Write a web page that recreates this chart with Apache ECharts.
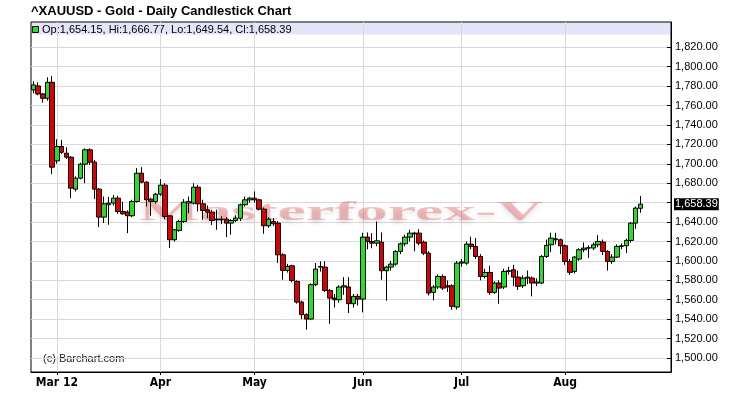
<!DOCTYPE html>
<html>
<head>
<meta charset="utf-8">
<script src="https://cdn.jsdelivr.net/npm/echarts@6/dist/echarts.min.js"></script>
<style>
html,body{margin:0;padding:0;background:#fff;}
#chart{width:734px;height:403px;}
</style>
</head>
<body>
<div id="chart"></div>
<script>
// ---- categories (trading days) ----
const dates = [
 '2012-02-23','2012-02-24','2012-02-27','2012-02-28','2012-02-29',
 '2012-03-01','2012-03-02','2012-03-05','2012-03-06','2012-03-07','2012-03-08','2012-03-09',
 '2012-03-12','2012-03-13','2012-03-14','2012-03-15','2012-03-16','2012-03-19','2012-03-20',
 '2012-03-21','2012-03-22','2012-03-23','2012-03-26','2012-03-27','2012-03-28','2012-03-29','2012-03-30',
 '2012-04-02','2012-04-03','2012-04-04','2012-04-05','2012-04-09','2012-04-10','2012-04-11',
 '2012-04-12','2012-04-13','2012-04-16','2012-04-17','2012-04-18','2012-04-19','2012-04-20',
 '2012-04-23','2012-04-24','2012-04-25','2012-04-26','2012-04-27','2012-04-30',
 '2012-05-01','2012-05-02','2012-05-03','2012-05-04','2012-05-07','2012-05-08','2012-05-09',
 '2012-05-10','2012-05-11','2012-05-14','2012-05-15','2012-05-16','2012-05-17','2012-05-18',
 '2012-05-21','2012-05-22','2012-05-23','2012-05-24','2012-05-25','2012-05-28','2012-05-29',
 '2012-05-30','2012-05-31',
 '2012-06-01','2012-06-04','2012-06-05','2012-06-06','2012-06-07','2012-06-08','2012-06-11',
 '2012-06-12','2012-06-13','2012-06-14','2012-06-15','2012-06-18','2012-06-19','2012-06-20',
 '2012-06-21','2012-06-22','2012-06-25','2012-06-26','2012-06-27','2012-06-28','2012-06-29',
 '2012-07-02','2012-07-03','2012-07-04','2012-07-05','2012-07-06','2012-07-09','2012-07-10',
 '2012-07-11','2012-07-12','2012-07-13','2012-07-16','2012-07-17','2012-07-18','2012-07-19',
 '2012-07-20','2012-07-23','2012-07-24','2012-07-25','2012-07-26','2012-07-27','2012-07-30','2012-07-31',
 '2012-08-01','2012-08-02','2012-08-03','2012-08-06','2012-08-07','2012-08-08','2012-08-09',
 '2012-08-10','2012-08-13','2012-08-14','2012-08-15','2012-08-16','2012-08-17','2012-08-20',
 '2012-08-21','2012-08-22','2012-08-23'
];
const emptySlots = ['', '', '', '', '', ''];

// ---- series values ----
const opens = [
 1776.1,1780.2,1771.9,1767.5,1783.9,
 1703.0,1717.8,1710.9,1706.8,1673.9,1685.2,1699.6,1714.4,1701.7,1673.9,1645.1,1657.8,1659.5,1664.6,
 1650.9,1650.2,1646.5,1661.2,1690.3,1681.1,1663.6,1661.2,
 1668.7,1678.0,1646.4,1621.8,1631.4,1640.6,1659.5,1659.5,1675.9,1658.8,1652.6,1650.2,1643.0,1643.0,
 1643.0,1638.9,1641.6,1644.0,1657.8,1662.9,
 1664.6,1662.9,1653.3,1636.2,1640.6,1638.9,1606.3,1590.2,1595.0,1578.9,1557.6,1544.6,1540.1,1575.5,
 1594.3,1593.6,1569.6,1561.7,1560.0,1573.1,1573.1,1555.9,1563.5,
 1560.7,1624.5,1620.0,1618.3,1619.3,1589.9,1593.6,1596.7,1609.8,1617.6,1624.5,1628.6,1628.6,1619.3,
 1608.0,1567.6,1573.1,1584.0,1574.4,1574.4,1552.5,
 1597.7,1597.7,1617.3,1614.9,1604.6,1584.0,1588.1,1567.6,1577.2,1573.1,1589.9,1590.9,1583.3,1574.4,
 1582.3,1582.3,1577.2,1577.2,1604.6,1616.6,1621.8,1621.8,
 1615.6,1599.5,1589.2,1601.9,1611.5,1613.2,1613.2,1616.6,1619.4,1609.8,1599.5,1603.9,1614.9,1615.6,
 1621.1,1638.9,1654.15
];
const closes = [
 1781.2,1771.9,1767.5,1783.9,1696.5,
 1717.8,1711.9,1706.8,1674.9,1685.2,1699.6,1714.4,1701.7,1673.9,1645.1,1658.8,1659.5,1664.6,1650.9,
 1648.5,1646.5,1661.2,1690.3,1681.1,1662.9,1661.2,1668.7,
 1678.0,1645.8,1621.8,1632.0,1640.6,1660.5,1661.2,1675.9,1658.8,1651.9,1650.2,1641.6,1642.3,1642.3,
 1638.9,1641.6,1644.0,1657.8,1662.9,1664.6,
 1662.9,1653.3,1636.2,1643.0,1638.2,1606.3,1590.2,1594.3,1579.9,1557.6,1544.6,1540.1,1575.5,1591.6,
 1593.6,1569.6,1561.7,1560.0,1573.1,1574.4,1555.9,1563.5,1560.7,
 1624.5,1620.0,1618.3,1620.7,1589.9,1593.6,1596.7,1609.8,1617.6,1624.5,1628.6,1627.9,1618.3,1608.0,
 1566.9,1573.1,1584.0,1572.0,1573.1,1553.2,1597.7,
 1599.0,1617.3,1614.9,1604.6,1584.0,1588.1,1567.6,1577.2,1572.0,1589.2,1589.2,1583.3,1573.8,1582.3,
 1583.3,1577.2,1578.2,1604.6,1616.0,1623.5,1622.8,1615.6,
 1599.5,1588.2,1603.9,1611.5,1613.2,1613.5,1616.6,1620.1,1609.8,1599.5,1603.9,1614.9,1615.6,1621.1,
 1638.9,1654.4,1658.39
];
const lows = [
 1772.5,1770.5,1763.0,1765.0,1689.3,
 1700.0,1710.0,1705.0,1664.6,1671.5,1684.0,1680.0,1699.0,1663.6,1634.8,1639.0,1637.2,1657.0,1648.5,
 1647.5,1628.6,1645.0,1660.0,1680.0,1656.0,1646.5,1659.0,
 1667.0,1643.0,1613.2,1620.0,1630.0,1639.0,1649.0,1658.0,1650.9,1642.3,1644.0,1637.0,1632.0,1638.0,
 1624.5,1627.0,1640.0,1641.0,1656.0,1660.0,
 1660.0,1652.0,1627.9,1634.0,1636.0,1597.8,1580.6,1588.0,1578.0,1556.0,1540.0,1529.2,1539.0,1574.0,
 1589.0,1568.0,1535.3,1552.0,1557.0,1565.0,1546.3,1552.0,1554.0,
 1547.0,1612.0,1613.0,1615.0,1580.6,1559.0,1590.0,1595.0,1607.0,1615.0,1620.0,1609.8,1616.0,1606.0,
 1564.5,1559.3,1571.0,1570.0,1568.0,1549.7,1550.0,
 1594.0,1596.0,1612.0,1602.0,1580.0,1582.0,1565.0,1566.0,1555.9,1571.0,1586.0,1574.0,1570.0,1572.0,
 1576.0,1563.5,1574.0,1576.0,1603.0,1609.0,1617.0,1607.0,
 1596.0,1585.6,1587.0,1600.0,1609.0,1603.0,1611.0,1614.0,1606.0,1590.0,1597.0,1603.0,1612.0,1608.0,
 1619.0,1633.0,1649.54
];
const highs = [
 1785.0,1784.0,1773.0,1789.0,1790.5,
 1725.3,1724.6,1717.0,1708.0,1687.0,1701.0,1716.0,1716.0,1704.0,1675.0,1666.3,1666.0,1668.0,1667.0,
 1661.0,1652.0,1663.0,1695.5,1696.5,1682.0,1665.0,1670.0,
 1684.2,1680.0,1647.0,1633.0,1642.0,1663.6,1666.3,1680.0,1678.3,1663.0,1657.0,1652.6,1652.6,1646.0,
 1645.0,1643.0,1647.0,1659.0,1666.3,1666.0,
 1671.5,1664.0,1655.0,1645.0,1644.0,1641.0,1608.0,1597.0,1596.0,1580.0,1559.0,1546.0,1577.0,1597.8,
 1599.5,1599.5,1571.0,1566.0,1575.0,1583.3,1583.3,1566.0,1566.0,
 1629.0,1629.3,1628.6,1640.6,1629.3,1595.0,1600.0,1611.0,1619.0,1627.0,1632.0,1630.0,1632.7,1621.0,
 1610.0,1575.0,1586.0,1586.0,1579.9,1576.0,1600.0,
 1602.0,1620.0,1625.0,1623.5,1607.0,1592.0,1595.0,1579.0,1580.0,1592.0,1594.0,1596.0,1590.0,1585.0,
 1590.0,1584.0,1582.0,1606.0,1622.0,1629.0,1629.0,1623.0,
 1617.0,1602.0,1605.0,1613.0,1619.0,1616.0,1619.0,1626.5,1622.0,1611.0,1607.0,1617.0,1618.0,1623.0,
 1640.0,1656.0,1666.77
];

// ---- tick labels ----
const monthTickDates = ['2012-03-01','2012-04-02','2012-05-01','2012-06-01','2012-07-02','2012-08-01'];
const monthTickLabels = ['Mar 12','Apr','May','Jun','Jul','Aug'];
const priceTicks = [1500,1520,1540,1560,1580,1600,1620,1640,1660,1680,1700,1720,1740,1760,1780,1800,1820];
const priceLabelTicks = priceTicks.filter(v => v !== 1660);

const lastIdx = dates.length - 1;
const lastClose = closes[lastIdx];
const fmt = v => v.toLocaleString('en-US', {minimumFractionDigits: 2, maximumFractionDigits: 2});
const legendText = 'Op:' + fmt(opens[lastIdx]) + ', Hi:' + fmt(highs[lastIdx]) +
  ', Lo:' + fmt(lows[lastIdx]) + ', Cl:' + fmt(lastClose);

const candleData = dates.map((d, i) => [opens[i], closes[i], lows[i], highs[i]]);
const isMonthTick = (idx, val) => monthTickDates.indexOf(val) >= 0;

const chart = echarts.init(document.getElementById('chart'), null, {renderer: 'canvas'});
chart.setOption({
  animation: false,
  backgroundColor: '#fff',
  grid: {left: 31, top: 22, width: 640, height: 350, show: true, borderColor: '#000', borderWidth: 1, backgroundColor: 'transparent'},
  xAxis: {
    type: 'category',
    data: dates.concat(emptySlots),
    boundaryGap: true,
    axisLine: {show: true, lineStyle: {color: '#000', width: 1}},
    axisTick: {show: true, alignWithLabel: true, interval: isMonthTick, length: 3, lineStyle: {color: '#000'}},
    axisLabel: {
      interval: isMonthTick,
      formatter: v => monthTickLabels[monthTickDates.indexOf(v)] || '',
      fontFamily: '"Liberation Sans Narrow", "DejaVu Sans Condensed", "Liberation Sans", sans-serif',
      fontWeight: 'bold', fontSize: 12, color: '#000', margin: 5
    },
    splitLine: {show: true, interval: isMonthTick, alignWithLabel: true, lineStyle: {color: '#d9d9d9', width: 1}}
  },
  yAxis: {
    type: 'value',
    position: 'right',
    min: 1485.6,
    max: 1846,
    axisLine: {show: true, lineStyle: {color: '#000', width: 1}},
    axisTick: {show: true, inside: true, length: 4, customValues: priceTicks, lineStyle: {color: '#000'}},
    axisLabel: {
      customValues: priceLabelTicks,
      formatter: v => fmt(v),
      fontFamily: '"Liberation Sans", Arial, sans-serif',
      fontSize: 11, color: '#000', margin: 4
    },
    splitLine: {show: true, lineStyle: {color: '#d9d9d9', width: 1}}
  },
  series: [{
    type: 'candlestick',
    data: candleData,
    barWidth: 5,
    itemStyle: {
      color: '#22e022', color0: '#dd0000',
      borderColor: '#000', borderColor0: '#000', borderWidth: 1
    },
    markLine: {
      silent: true, symbol: 'none', animation: false,
      lineStyle: {color: 'rgba(0,0,0,0)', width: 0},
      data: [{yAxis: lastClose}],
      label: {
        show: true, position: 'end', distance: 3,
        formatter: fmt(lastClose),
        backgroundColor: '#000', color: '#fff', padding: [1, 1, 0, 1],
        fontFamily: '"Liberation Sans", Arial, sans-serif', fontSize: 11
      }
    }
  }],
  graphic: [
    {type: 'rect', z: -1, shape: {x: 31.5, y: 22.5, width: 639, height: 12}, style: {fill: '#e4e4fa'}},
    {type: 'text', x: 31, y: 5, style: {text: '^XAUUSD - Gold - Daily Candlestick Chart',
      font: 'bold 13px "Liberation Sans", Arial, sans-serif', fill: '#000'}},
    {type: 'rect', shape: {x: 32.5, y: 26.5, width: 6, height: 6}, style: {fill: '#22e022', stroke: '#000', lineWidth: 1}},
    {type: 'text', x: 42, y: 29.5, style: {text: legendText, font: '11px "Liberation Sans", Arial, sans-serif',
      fill: '#000', verticalAlign: 'middle'}},
    {type: 'text', x: 43, y: 359, style: {text: '(c) Barchart.com', font: '11px "Liberation Sans", Arial, sans-serif',
      fill: '#222', verticalAlign: 'middle'}},
    {type: 'text', z: 1, x: 139, y: 213, scaleX: 2.37, style: {text: 'Masterforex-V',
      font: 'bold 27px "Liberation Serif", "DejaVu Serif", serif', fill: 'rgba(228,95,95,0.4)',
      verticalAlign: 'middle', textShadowColor: 'rgba(0,0,0,0.28)', textShadowBlur: 4, textShadowOffsetY: 3}}
  ]
});
</script>
</body>
</html>
